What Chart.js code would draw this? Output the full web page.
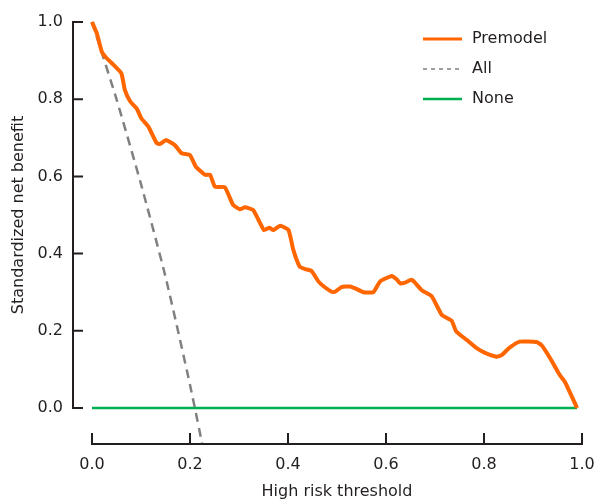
<!DOCTYPE html>
<html>
<head>
<meta charset="utf-8">
<script src="https://cdn.jsdelivr.net/npm/chart.js@4.4.0/dist/chart.umd.min.js"></script>
<style>
    html, body { margin: 0; padding: 0; background: #fff; }
</style>
</head>
<body>
<canvas id="dca" width="597" height="501"></canvas>
<script>
// decision curve, values
var premodelThreshold = [0, 0.01, 0.02, 0.03, 0.044, 0.06, 0.067, 0.078, 0.091, 0.101, 0.115, 0.132, 0.139, 0.151, 0.169, 0.183,
    0.2, 0.212, 0.231, 0.241, 0.251, 0.271, 0.288, 0.302, 0.312, 0.329, 0.351, 0.362, 0.37, 0.384, 0.401, 0.411,
    0.424, 0.435, 0.448, 0.462, 0.472, 0.489, 0.496, 0.509, 0.527, 0.537, 0.554, 0.574, 0.588, 0.612, 0.622, 0.629,
    0.639, 0.652, 0.659, 0.673, 0.693, 0.714, 0.734, 0.743, 0.765, 0.785, 0.802, 0.826, 0.836, 0.853, 0.873, 0.907,
    0.918, 0.935, 0.955, 0.965, 0.99];
var premodelBenefit = [1.0, 0.97, 0.923, 0.906, 0.889, 0.867, 0.824, 0.794, 0.776, 0.75, 0.729, 0.686, 0.684, 0.694, 0.681, 0.66,
    0.655, 0.625, 0.604, 0.604, 0.573, 0.572, 0.526, 0.515, 0.52, 0.513, 0.461, 0.467, 0.461, 0.472, 0.461, 0.409,
    0.366, 0.36, 0.355, 0.328, 0.316, 0.301, 0.301, 0.313, 0.315, 0.31, 0.30, 0.30, 0.328, 0.342, 0.333, 0.323,
    0.325, 0.332, 0.325, 0.305, 0.29, 0.241, 0.226, 0.199, 0.176, 0.155, 0.143, 0.133, 0.137, 0.157, 0.172, 0.171,
    0.162, 0.129, 0.085, 0.068, 0.0];
var allThreshold = [0, 0.05, 0.10, 0.15, 0.20, 0.25];
var allBenefit = [1.0, 0.80, 0.58, 0.34, 0.06, -0.25];
var noneThreshold = [0, 0.99];
var noneBenefit = [0, 0];
var xTicks = [0, 0.2, 0.4, 0.6, 0.8, 1.0];
var yTicks = [0, 0.2, 0.4, 0.6, 0.8, 1.0];
var seriesNames = ['Premodel', 'All', 'None'];
var seriesColors = ['#ff6600', '#808080', '#00b050'];
var inkColor = '#231f20';

function toPoints(xs, ys) {
    var pts = [];
    xs.forEach(function (x, i) {
        pts.push({ x: x, y: ys[i] });
    });
    return pts;
}

// ggplot-like detached axes plus the legend in the upper right
var offsetAxes = {
    id: 'offsetAxes',
    afterDraw: function (chart) {
        var ctx = chart.ctx;
        var area = chart.chartArea;
        var xs = chart.scales.x;
        var ys = chart.scales.y;
        var axisX = area.left - 19;
        var axisY = area.bottom + 36;
        ctx.save();
        ctx.strokeStyle = inkColor;
        ctx.lineWidth = 2;
        ctx.beginPath();
        ctx.moveTo(axisX, ys.getPixelForValue(yTicks[yTicks.length - 1]) - 1);
        ctx.lineTo(axisX, ys.getPixelForValue(yTicks[0]) + 1);
        yTicks.forEach(function (v) {
            var p = ys.getPixelForValue(v);
            ctx.moveTo(axisX, p);
            ctx.lineTo(axisX + 10, p);
        });
        ctx.moveTo(xs.getPixelForValue(xTicks[0]) - 1, axisY);
        ctx.lineTo(xs.getPixelForValue(xTicks[xTicks.length - 1]) + 1, axisY);
        xTicks.forEach(function (v) {
            var p = xs.getPixelForValue(v);
            ctx.moveTo(p, axisY);
            ctx.lineTo(p, axisY - 11);
        });
        ctx.stroke();

        // legend
        ctx.font = '16px "DejaVu Sans"';
        ctx.textBaseline = 'middle';
        ctx.textAlign = 'left';
        chart.data.datasets.forEach(function (ds, i) {
            var y = area.top + 17 + i * 30;
            var x0 = area.right - 159;
            ctx.beginPath();
            ctx.strokeStyle = ds.borderColor;
            ctx.lineWidth = i === 1 ? 1.5 : (i === 0 ? 3 : 2.5);
            ctx.setLineDash(i === 1 ? [4, 4] : []);
            ctx.moveTo(x0, y);
            ctx.lineTo(x0 + 39, y);
            ctx.stroke();
            ctx.setLineDash([]);
            ctx.fillStyle = inkColor;
            ctx.fillText(ds.label, x0 + 49, y);
        });
        ctx.restore();
    }
};

Chart.defaults.font.family = '"DejaVu Sans", sans-serif';
Chart.defaults.font.size = 16;
Chart.defaults.color = inkColor;

new Chart(document.getElementById('dca').getContext('2d'), {
    type: 'line',
    data: {
        datasets: [
            {
                label: seriesNames[0],
                data: toPoints(premodelThreshold, premodelBenefit),
                borderColor: seriesColors[0],
                borderWidth: 4,
                tension: 0.15,
                pointRadius: 0,
                clip: 8
            },
            {
                label: seriesNames[1],
                data: toPoints(allThreshold, allBenefit),
                borderColor: seriesColors[1],
                borderWidth: 2.5,
                borderDash: [9, 6],
                tension: 0.2,
                pointRadius: 0,
                clip: { left: 8, top: 8, right: 8, bottom: 36 }
            },
            {
                label: seriesNames[2],
                data: toPoints(noneThreshold, noneBenefit),
                borderColor: seriesColors[2],
                borderWidth: 2.5,
                pointRadius: 0,
                clip: 8
            }
        ]
    },
    options: {
        responsive: false,
        animation: false,
        layout: { padding: { top: 22, right: 15, left: 0, bottom: 0 } },
        plugins: {
            legend: { display: false },
            tooltip: { enabled: false }
        },
        scales: {
            x: {
                type: 'linear',
                position: 'bottom',
                min: 0,
                max: 1,
                grid: { display: false, drawTicks: false },
                border: { display: false },
                afterBuildTicks: function (scale) {
                    scale.ticks = xTicks.map(function (v) { return { value: v }; });
                },
                afterFit: function (scale) {
                    scale.height = 93;
                    scale.paddingLeft = 0;
                    scale.paddingRight = 0;
                },
                ticks: {
                    padding: 47,
                    maxRotation: 0,
                    callback: function (v) { return v.toFixed(1); }
                },
                title: { display: true, text: 'High risk threshold', padding: { top: 0, bottom: 0 } }
            },
            y: {
                type: 'linear',
                min: 0,
                max: 1,
                grid: { display: false, drawTicks: false },
                border: { display: false },
                afterBuildTicks: function (scale) {
                    scale.ticks = yTicks.map(function (v) { return { value: v }; });
                },
                afterFit: function (scale) {
                    scale.width = 92;
                    scale.paddingTop = 0;
                    scale.paddingBottom = 0;
                },
                ticks: {
                    padding: 29,
                    callback: function (v) { return v.toFixed(1); }
                },
                title: { display: true, text: 'Standardized net benefit', padding: { top: 9, bottom: 0 } }
            }
        }
    },
    plugins: [offsetAxes]
});
</script>
</body>
</html>
